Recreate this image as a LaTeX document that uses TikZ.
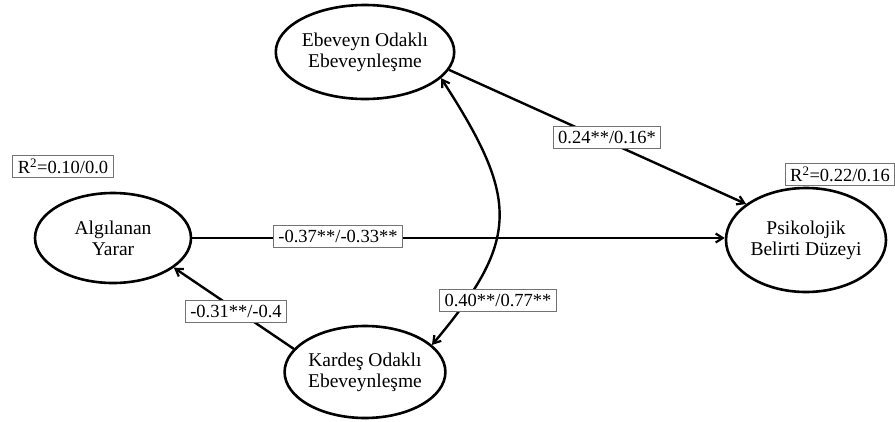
\documentclass[tikz,border=0pt]{standalone}
\usepackage{fontspec}
\setmainfont{Liberation Serif}
\usetikzlibrary{shapes.geometric,arrows.meta}
\begin{document}
\begin{tikzpicture}[x=1pt,y=-1pt,
  latent/.style={ellipse,draw=black,line width=2.6pt,inner sep=0pt,align=center,
    font=\fontsize{19.5}{21}\selectfont},
  lbl/.style={draw=black!55,line width=1pt,fill=white,inner xsep=5pt,inner ysep=0pt,
    minimum height=22pt,font=\fontsize{18.5}{20}\selectfont},
  conn/.style={line width=2.4pt,-{Straight Barb[length=7pt,width=9pt,line width=2.2pt]}},
  conn2/.style={line width=2.4pt,{Straight Barb[length=7pt,width=9pt,line width=2.2pt]}-{Straight Barb[length=7pt,width=9pt,line width=2.2pt]}}]
\useasboundingbox (0,0) rectangle (895,421);
\node[latent,minimum width=156pt,minimum height=90pt] (ay) at (113,238) {Algılanan\\Yarar};
\node[latent,minimum width=156pt,minimum height=94pt] (eb) at (365,52) {Ebeveyn Odaklı\\Ebeveynleşme};
\node[latent,minimum width=155pt,minimum height=92pt] (kd) at (365,372) {Kardeş Odaklı\\Ebeveynleşme};
\node[latent,minimum width=160pt,minimum height=104pt] (ps) at (806,240) {Psikolojik\\Belirti Düzeyi};
\draw[conn] (eb.-12) -- (ps.149);
\draw[conn] (ay.east |- 0,238) -- (ps.west |- 0,238);
\draw[conn] (kd.162) -- (ay.-26);
\draw[conn2] (eb.-19) .. controls (520,200) and (520,240) .. (kd.22);
\node[lbl] (l1) at (607,137) {0.24**/0.16*};
\node[lbl] (l2) at (338,236) {-0.37**/-0.33**};
\node[lbl] (l3) at (236,311) {-0.31**/-0.4};
\node[lbl] (l4) at (498,300) {0.40**/0.77**};
\node[lbl] (r1) at (63,166) {R\textsuperscript{2}=0.10/0.0};
\node[lbl] (r2) at (840,174) {R\textsuperscript{2}=0.22/0.16};
\end{tikzpicture}
\end{document}
